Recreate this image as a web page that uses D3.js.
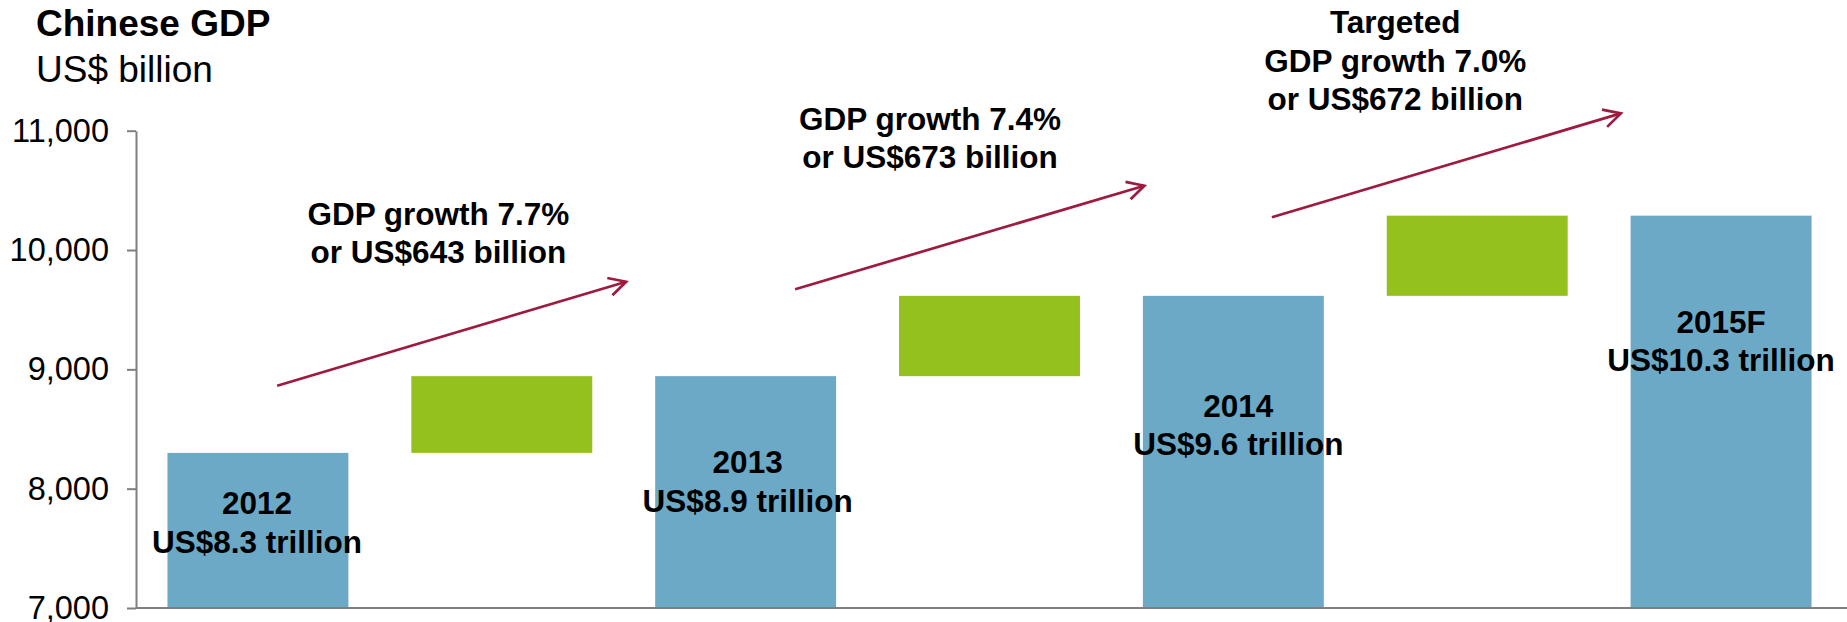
<!DOCTYPE html>
<html>
<head>
<meta charset="utf-8">
<script src="https://cdn.jsdelivr.net/npm/d3@7"></script>
<style>
  html, body { margin: 0; padding: 0; background: #fff; }
  svg { display: block; font-family: "Liberation Sans", Arial, sans-serif; }
</style>
</head>
<body>
<svg id="chart" width="1847" height="622"></svg>
<script>
// Year-end GDP totals (US$ billion)
const years = ["2012", "2013", "2014", "2015F"];
const totals = [8300, 8943, 9616, 10288];
const totalLabels = ["US$8.3 trillion", "US$8.9 trillion", "US$9.6 trillion", "US$10.3 trillion"];

// Year-on-year increases (US$ billion) and growth rates
const growthValues = [643, 673, 672];
const growthRates = ["7.7%", "7.4%", "7.0%"];
const growthPrefix = ["", "", "Targeted"];

// Value axis ticks
const yTicks = [7000, 8000, 9000, 10000, 11000];

// Layout of annotations: x in slot units (0 = centre of first column), y in axis units
const totalLabelY = [7785, 8129, 8603, 9307];
const totalLabelDx = [-1, 2, 5, 0];
const growthLabelPos = [{x: 0.74, y: 10210}, {x: 2.756, y: 11006}, {x: 4.664, y: 11816}];
const arrowPos = [
  {x0: 0.079, y0: 8863, x1: 1.510, y1: 9734},
  {x0: 2.203, y0: 9671, x1: 3.635, y1: 10539},
  {x0: 4.158, y0: 10274, x1: 5.589, y1: 11145}
];

const BLUE = "#6CA9C7", GREEN = "#95C11F", ARROW = "#9E1A3E", AXIS = "#7F7F7F";
const FONT = 31.5;

const svg = d3.select("#chart");

// Build the waterfall: alternating total columns and increase columns
const cols = [];
years.forEach((yr, i) => {
  cols.push({key: "t" + i, type: "total", lo: 7000, hi: totals[i], i});
  if (i < growthValues.length) {
    cols.push({key: "g" + i, type: "growth", lo: totals[i], hi: totals[i] + growthValues[i], i});
  }
});

const x = d3.scaleBand()
  .domain(cols.map(d => d.key))
  .range([136, 1843])
  .paddingInner(0.258)
  .paddingOuter(0.129);

const y = d3.scaleLinear().domain([7000, 11000]).range([608, 130.7]);

// slot scale for free annotations: slot k -> centre of column k
const slot = d3.scaleLinear()
  .domain([0, 1])
  .range([x(cols[0].key) + x.bandwidth() / 2, x(cols[1].key) + x.bandwidth() / 2]);

// Bars
svg.append("g").selectAll("rect")
  .data(cols)
  .join("rect")
  .attr("x", d => x(d.key))
  .attr("width", x.bandwidth())
  .attr("y", d => y(d.hi))
  .attr("height", d => y(d.lo) - y(d.hi))
  .attr("fill", d => d.type === "total" ? BLUE : GREEN);

// Y axis
const yAxis = svg.append("g")
  .attr("transform", "translate(136,0)")
  .call(d3.axisLeft(y).tickValues(yTicks).tickFormat(d3.format(",")).tickSize(9).tickPadding(18).tickSizeOuter(0));
yAxis.select(".domain").attr("stroke", AXIS).attr("stroke-width", 2);
yAxis.selectAll(".tick line").attr("stroke", AXIS).attr("stroke-width", 2);
yAxis.selectAll(".tick text")
  .attr("fill", "#000")
  .style("font-size", "32.5px")
  .style("font-family", "'Liberation Sans', Arial, sans-serif");

// X baseline
svg.append("line")
  .attr("x1", 136).attr("x2", 1847)
  .attr("y1", y(7000)).attr("y2", y(7000))
  .attr("stroke", AXIS).attr("stroke-width", 2);

// Total labels inside columns
const totalCols = cols.filter(d => d.type === "total");
const labelX = d => Math.min(x(d.key) + x.bandwidth() / 2 + totalLabelDx[d.i], 1847 - 120);
const tl = svg.append("g").selectAll("text")
  .data(totalCols)
  .join("text")
  .attr("text-anchor", "middle")
  .attr("font-weight", "bold")
  .attr("font-size", FONT)
  .attr("fill", "#000");
tl.append("tspan")
  .attr("x", labelX)
  .attr("y", d => y(totalLabelY[d.i]))
  .text(d => years[d.i]);
tl.append("tspan")
  .attr("x", labelX)
  .attr("dy", 38.5)
  .text(d => totalLabels[d.i]);

// Growth arrows
const defs = svg.append("defs");
defs.append("marker")
  .attr("id", "openArrow")
  .attr("markerUnits", "userSpaceOnUse")
  .attr("viewBox", "-20 -12 24 24")
  .attr("markerWidth", 24).attr("markerHeight", 24)
  .attr("refX", 0).attr("refY", 0)
  .attr("orient", "auto")
  .append("path")
  .attr("d", "M-17,-9 L0,0 L-17,9")
  .attr("fill", "none")
  .attr("stroke", ARROW)
  .attr("stroke-width", 2.7);

svg.append("g").selectAll("line")
  .data(arrowPos)
  .join("line")
  .attr("x1", d => slot(d.x0)).attr("y1", d => y(d.y0))
  .attr("x2", d => slot(d.x1)).attr("y2", d => y(d.y1))
  .attr("stroke", ARROW)
  .attr("stroke-width", 2.7)
  .attr("marker-end", "url(#openArrow)");

// Growth labels
const gl = svg.append("g").selectAll("text")
  .data(growthValues.map((v, i) => ({v, i})))
  .join("text")
  .attr("text-anchor", "middle")
  .attr("font-weight", "bold")
  .attr("font-size", FONT)
  .attr("fill", "#000");
gl.each(function(d) {
  const t = d3.select(this);
  const cx = slot(growthLabelPos[d.i].x);
  const lines = [];
  if (growthPrefix[d.i]) lines.push(growthPrefix[d.i]);
  lines.push("GDP growth " + growthRates[d.i]);
  lines.push("or US$" + d.v + " billion");
  lines.forEach((s, k) => {
    t.append("tspan")
      .attr("x", cx)
      .attr(k === 0 ? "y" : "dy", k === 0 ? y(growthLabelPos[d.i].y) : 38.2)
      .text(s);
  });
});

// Title
svg.append("text")
  .attr("x", 36).attr("y", 36)
  .attr("font-weight", "bold")
  .attr("font-size", 37)
  .text("Chinese GDP");
svg.append("text")
  .attr("x", 36).attr("y", 82)
  .attr("font-size", 37)
  .text("US$ billion");
</script>
</body>
</html>
